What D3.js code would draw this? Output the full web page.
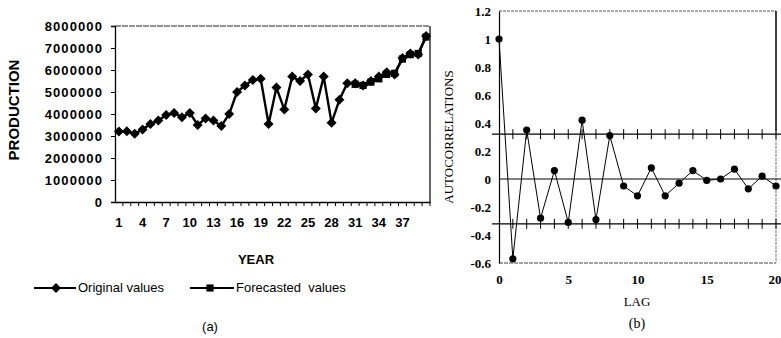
<!DOCTYPE html>
<html>
<head>
<meta charset="utf-8">
<script src="https://cdn.jsdelivr.net/npm/d3@7"></script>
<style>
  html, body { margin: 0; padding: 0; background: #fff; }
  svg { display: block; }
  .sans { font-family: "Liberation Sans", Arial, sans-serif; }
  .serif { font-family: "Liberation Serif", "Times New Roman", serif; }
  .axis path, .axis line { stroke: #000; }
</style>
</head>
<body>
<svg id="chart" width="781" height="338"></svg>
<script>
// (a) production series
const years = [1, 2, 3, 4, 5, 6, 7, 8, 9, 10, 11, 12, 13, 14, 15, 16, 17, 18, 19, 20,
  21, 22, 23, 24, 25, 26, 27, 28, 29, 30, 31, 32, 33, 34, 35, 36, 37, 38, 39, 40];
const originalValues = [3200000, 3220000, 3100000, 3300000, 3550000, 3700000, 3950000, 4050000, 3850000, 4050000,
  3500000, 3800000, 3700000, 3450000, 4000000, 5000000, 5300000, 5550000, 5600000, 3550000,
  5200000, 4200000, 5700000, 5500000, 5800000, 4250000, 5700000, 3600000, 4650000, 5400000,
  5400000, 5300000, 5500000, 5700000, 5900000, 5800000, 6550000, 6750000, 6700000, 7550000];
const forecastYears = [31, 32, 33, 34, 35, 36, 37, 38, 39, 40];
const forecastValues = [5350000, 5300000, 5450000, 5600000, 5800000, 5850000, 6500000, 6700000, 6750000, 7500000];
const prodTicks = [0, 1000000, 2000000, 3000000, 4000000, 5000000, 6000000, 7000000, 8000000];
const yearLabels = [1, 4, 7, 10, 13, 16, 19, 22, 25, 28, 31, 34, 37];

// (b) autocorrelation function
const lags = [0, 1, 2, 3, 4, 5, 6, 7, 8, 9, 10, 11, 12, 13, 14, 15, 16, 17, 18, 19, 20];
const acf = [1.0, -0.57, 0.35, -0.28, 0.06, -0.31, 0.42, -0.29, 0.31, -0.05, -0.12,
  0.08, -0.12, -0.03, 0.06, -0.01, 0.0, 0.07, -0.07, 0.02, -0.05];
const confLimit = 0.32;
const acfTicks = [-0.6, -0.4, -0.2, 0, 0.2, 0.4, 0.6, 0.8, 1, 1.2];
const lagTicks = [0, 5, 10, 15, 20];

const svg = d3.select('#chart');

// ---------- left panel ----------
const left = { x0: 115, x1: 430, y0: 26, y1: 202 };
const xA = d3.scaleBand().domain(years).range([left.x0, left.x1]);
const yA = d3.scaleLinear().domain([0, 8000000]).range([left.y1, left.y0]);

const pa = svg.append('g').attr('class', 'sans');

// frame (top and right)
pa.append('line').attr('x1', left.x0).attr('x2', left.x1).attr('y1', left.y0).attr('y2', left.y0)
  .attr('stroke', '#222').attr('stroke-width', 1.2).attr('stroke-dasharray', '6,1');
pa.append('line').attr('x1', left.x1).attr('x2', left.x1).attr('y1', left.y0).attr('y2', left.y1)
  .attr('stroke', '#111').attr('stroke-width', 1.3);

const yAxisA = pa.append('g').attr('class', 'axis')
  .attr('transform', `translate(${left.x0},0)`)
  .call(d3.axisLeft(yA).tickValues(prodTicks).tickSize(4).tickPadding(8).tickFormat(d3.format('d')));
yAxisA.selectAll('text').attr('font-size', 13).attr('font-weight', 'bold')
  .attr('letter-spacing', 1.1).attr('font-family', '"Liberation Sans", Arial, sans-serif');
yAxisA.select('.domain').attr('stroke-width', 1.3);

const xAxisA = pa.append('g').attr('class', 'axis')
  .attr('transform', `translate(0,${left.y1})`)
  .call(d3.axisBottom(xA).tickValues(yearLabels).tickSize(0).tickPadding(16));
xAxisA.selectAll('text').attr('font-size', 13).attr('font-weight', 'bold')
  .attr('font-family', '"Liberation Sans", Arial, sans-serif');
xAxisA.select('.domain').attr('stroke-width', 1.3);

// category tick marks between years
pa.append('g').selectAll('line').data(years).join('line')
  .attr('x1', d => xA(d) + xA.bandwidth()).attr('x2', d => xA(d) + xA.bandwidth())
  .attr('y1', left.y1).attr('y2', left.y1 + 4).attr('stroke', '#000');

const lineA = d3.line().x(d => xA(d[0]) + xA.bandwidth() / 2).y(d => yA(d[1]));
const origPts = years.map((y, i) => [y, originalValues[i]]);
const fcPts = forecastYears.map((y, i) => [y, forecastValues[i]]);

pa.append('path').datum(origPts).attr('d', lineA)
  .attr('fill', 'none').attr('stroke', '#000').attr('stroke-width', 2.4);
pa.append('path').datum(fcPts).attr('d', lineA)
  .attr('fill', 'none').attr('stroke', '#000').attr('stroke-width', 2.4);

const diamond = d3.symbol().type(d3.symbolDiamond2).size(64);
const square = d3.symbol().type(d3.symbolSquare).size(52);

pa.append('g').selectAll('path').data(origPts).join('path')
  .attr('d', diamond)
  .attr('transform', d => `translate(${xA(d[0]) + xA.bandwidth() / 2},${yA(d[1])})`)
  .attr('fill', '#000');
pa.append('g').selectAll('path').data(fcPts).join('path')
  .attr('d', square)
  .attr('transform', d => `translate(${xA(d[0]) + xA.bandwidth() / 2},${yA(d[1])})`)
  .attr('fill', '#000');

pa.append('text').attr('transform', 'translate(19,110) rotate(-90)')
  .attr('text-anchor', 'middle').attr('font-size', 15).attr('font-weight', 'bold')
  .text('PRODUCTION');
pa.append('text').attr('x', 256).attr('y', 264)
  .attr('text-anchor', 'middle').attr('font-size', 13).attr('font-weight', 'bold')
  .text('YEAR');

// legend
const lg = pa.append('g').attr('transform', 'translate(0,292)');
lg.append('line').attr('x1', 34).attr('x2', 76).attr('y1', -4).attr('y2', -4).attr('stroke', '#000').attr('stroke-width', 2);
lg.append('path').attr('d', diamond).attr('transform', 'translate(56,-4)').attr('fill', '#000');
lg.append('text').attr('x', 78).attr('font-size', 13).text('Original values');
lg.append('line').attr('x1', 190).attr('x2', 234).attr('y1', -4).attr('y2', -4).attr('stroke', '#000').attr('stroke-width', 2);
lg.append('path').attr('d', square).attr('transform', 'translate(210,-4)').attr('fill', '#000');
lg.append('text').attr('x', 236).attr('font-size', 13).attr('xml:space', 'preserve').text('Forecasted  values');

pa.append('text').attr('x', 210).attr('y', 331).attr('text-anchor', 'middle')
  .attr('font-size', 13).text('(a)');

// ---------- right panel ----------
const right = { x0: 499, x1: 776, y0: 11, y1: 263 };
const xB = d3.scaleLinear().domain([0, 20]).range([right.x0, right.x1]);
const yB = d3.scaleLinear().domain([-0.6, 1.2]).range([right.y1, right.y0]);

const pb = svg.append('g').attr('class', 'serif');

// frame
pb.append('line').attr('x1', right.x0).attr('x2', right.x1).attr('y1', right.y0).attr('y2', right.y0)
  .attr('stroke', '#555').attr('stroke-width', 1).attr('stroke-dasharray', '3,1');
pb.append('line').attr('x1', right.x1).attr('x2', right.x1).attr('y1', right.y0).attr('y2', yB(0.35))
  .attr('stroke', '#000').attr('stroke-width', 1.5);
pb.append('line').attr('x1', right.x1).attr('x2', right.x1).attr('y1', yB(0.35)).attr('y2', right.y1)
  .attr('stroke', '#777').attr('stroke-width', 1).attr('stroke-dasharray', '3,1');
pb.append('line').attr('x1', right.x0).attr('x2', right.x1).attr('y1', right.y1).attr('y2', right.y1)
  .attr('stroke', '#444').attr('stroke-width', 1).attr('stroke-dasharray', '4,1');

const yAxisB = pb.append('g').attr('class', 'axis')
  .attr('transform', `translate(${right.x0},0)`)
  .call(d3.axisLeft(yB).tickValues(acfTicks).tickSize(0).tickPadding(8).tickFormat(d => String(d)));
yAxisB.select('.domain').attr('stroke-width', 1.2);
yAxisB.selectAll('text').attr('font-size', 13).attr('font-weight', 'bold')
  .attr('font-family', '"Liberation Serif", "Times New Roman", serif');

const xAxisB = pb.append('g').attr('class', 'axis')
  .attr('transform', `translate(0,${right.y1})`)
  .call(d3.axisBottom(xB).tickValues(lagTicks).tickSize(0).tickPadding(12).tickFormat(d => String(d)));
xAxisB.select('.domain').remove();
xAxisB.selectAll('text').attr('font-size', 13).attr('font-weight', 'bold')
  .attr('font-family', '"Liberation Serif", "Times New Roman", serif');
// keep the last lag label inside the page
xAxisB.selectAll('.tick').filter(d => d === 20).select('text')
  .attr('text-anchor', 'end').attr('dx', 5);

// zero line and confidence limits
pb.append('line').attr('x1', right.x0).attr('x2', 781).attr('y1', yB(0)).attr('y2', yB(0))
  .attr('stroke', '#000').attr('stroke-width', 1);
[confLimit, -confLimit].forEach(c => {
  pb.append('line').attr('x1', right.x0 - 7).attr('x2', 781).attr('y1', yB(c)).attr('y2', yB(c))
    .attr('stroke', '#000').attr('stroke-width', 1.2);
  pb.append('g').selectAll('line').data(lags.slice(1)).join('line')
    .attr('x1', d => xB(d)).attr('x2', d => xB(d))
    .attr('y1', yB(c) - 5).attr('y2', yB(c) + 5)
    .attr('stroke', '#000').attr('stroke-width', 1);
});

const acfPts = lags.map((l, i) => [l, acf[i]]);
pb.append('path').datum(acfPts)
  .attr('d', d3.line().x(d => xB(d[0])).y(d => yB(d[1])))
  .attr('fill', 'none').attr('stroke', '#000').attr('stroke-width', 1);
pb.append('g').selectAll('circle').data(acfPts).join('circle')
  .attr('cx', d => xB(d[0])).attr('cy', d => yB(d[1])).attr('r', 3.6).attr('fill', '#000');

pb.append('text').attr('transform', 'translate(453,137) rotate(-90)')
  .attr('text-anchor', 'middle').attr('font-size', 13).text('AUTOCORRELATIONS');
pb.append('text').attr('x', 637).attr('y', 306).attr('text-anchor', 'middle')
  .attr('font-size', 13).text('LAG');
pb.append('text').attr('x', 637).attr('y', 328).attr('text-anchor', 'middle')
  .attr('font-size', 14).text('(b)');
</script>
</body>
</html>
